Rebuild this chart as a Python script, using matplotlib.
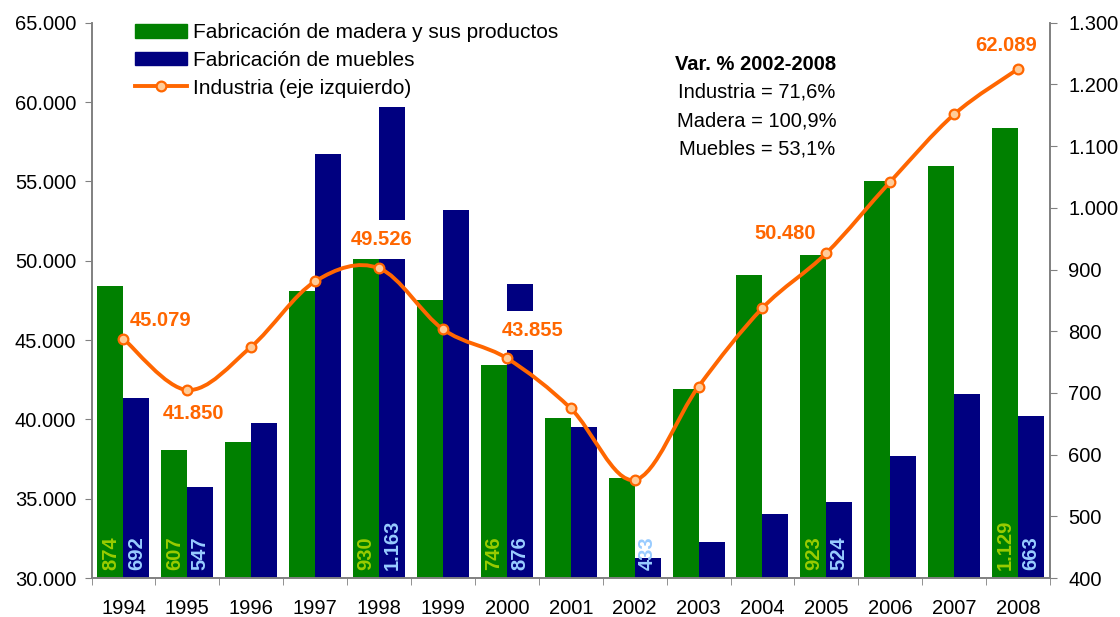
import numpy as np
import matplotlib
matplotlib.use("Agg")
import matplotlib.pyplot as plt
from matplotlib.path import Path
from matplotlib.patches import PathPatch, Patch
from matplotlib.lines import Line2D
from matplotlib.ticker import FuncFormatter, FixedLocator

plt.rcParams['font.family'] = ['Liberation Sans', 'DejaVu Sans']

years = ["1994", "1995", "1996", "1997", "1998", "1999", "2000", "2001",
         "2002", "2003", "2004", "2005", "2006", "2007", "2008"]
madera = [874, 607, 621, 865, 930, 851, 746, 659, 562, 706, 891, 923, 1044, 1068, 1129]
muebles = [692, 547, 651, 1087, 1163, 997, 876, 645, 433, 458, 504, 524, 598, 698, 663]
industria = [45079, 41850, 44580, 48700, 49526, 45680, 43855, 40690, 36180,
             42070, 47020, 50480, 54980, 59230, 62089]

# which values carry a data label
madera_lab = {0, 1, 4, 6, 11, 14}
muebles_lab = {0, 1, 4, 6, 8, 11, 14}
# industria label index -> offset in pixels from the marker
industria_lab = {0: (37, 18), 1: (6, -23), 4: (3, 29), 6: (26, 28), 11: (-41, 20), 14: (-12, 23)}

var_title = "Var. % 2002-2008"
var_lines = ["Industria = 71,6%", "Madera = 100,9%", "Muebles = 53,1%"]

GREEN = "#008000"
NAVY = "#000080"
ORANGE = "#FF6600"
PEACH = "#FFCC99"
GREY = "#808080"
FS = 14.5


def miles(v, pos=None):
    return f"{v:,.0f}".replace(",", ".")


def label_box(x0, y0, width, height, mutation_size):
    # white box like the excel data labels: tall and narrow
    px = 0.15 * mutation_size
    py = 0.5 * mutation_size
    return Path([(x0 - px, y0 - py), (x0 + width + px, y0 - py),
                 (x0 + width + px, y0 + height + py), (x0 - px, y0 + height + py),
                 (x0 - px, y0 - py)], closed=True)


fig = plt.figure(figsize=(11.2, 6.17), dpi=100)
ax = fig.add_axes([91.5 / 1120, 1 - 578 / 617, 958.5 / 1120, 555.2 / 617])
ax2 = ax.twinx()
ax.set_zorder(ax2.get_zorder() + 1)
ax.patch.set_visible(False)

x = np.arange(len(years))
w = 0.407

# bars on right axis
ax2.bar(x - w / 2, madera, w, color=GREEN, zorder=2)
ax2.bar(x + w / 2, muebles, w, color=NAVY, zorder=2)
for i in x:
    if i in madera_lab:
        ax2.annotate(miles(madera[i]), (x[i] - w / 2, 400), xytext=(0, 8),
                     textcoords="offset pixels", rotation=90, ha="center", va="bottom",
                     color="#99CC00", fontsize=FS, fontweight="bold", zorder=4)
    if i in muebles_lab:
        ax2.annotate(miles(muebles[i]), (x[i] + w / 2, 400), xytext=(0, 8),
                     textcoords="offset pixels", rotation=90, ha="center", va="bottom",
                     color="#99CCFF", fontsize=FS, fontweight="bold", zorder=4)

ax2.set_ylim(400, 1300)
ax2.set_yticks(np.arange(400, 1301, 100))
ax2.yaxis.set_major_formatter(FuncFormatter(miles))

# smoothed industria line (bezier through the points, like excel)
pts = np.column_stack([x, industria]).astype(float)
verts = [tuple(pts[0])]
codes = [Path.MOVETO]
n = len(pts)
for i in range(n - 1):
    p0 = pts[i - 1] if i > 0 else pts[i]
    p1 = pts[i]
    p2 = pts[i + 1]
    p3 = pts[i + 2] if i + 2 < n else pts[i + 1]
    c1 = p1 + (p2 - p0) / 6
    c2 = p2 - (p3 - p1) / 6
    verts += [tuple(c1), tuple(c2), tuple(p2)]
    codes += [Path.CURVE4] * 3
ax.add_patch(PathPatch(Path(verts, codes), fc="none", ec=ORANGE, lw=2.8, zorder=3,
                       capstyle="round", joinstyle="round"))
ax.plot(x, industria, linestyle="none", marker="o", ms=7, mfc=PEACH, mec=ORANGE,
        mew=1.6, zorder=4)

for i, (dx, dy) in industria_lab.items():
    ax.annotate(miles(industria[i]), (x[i], industria[i]), xytext=(dx, dy),
                textcoords="offset pixels", ha="center", va="center",
                color=ORANGE, fontsize=FS, fontweight="bold", zorder=2.5,
                bbox=dict(boxstyle=label_box, fc="white", ec="none"))

ax.set_ylim(30000, 65000)
ax.set_yticks(np.arange(30000, 65001, 5000))
ax.yaxis.set_major_formatter(FuncFormatter(miles))
ax.set_xlim(-0.5, len(years) - 0.5)
ax.set_xticks(x)
ax.set_xticklabels(years)
ax.xaxis.set_minor_locator(FixedLocator(np.arange(-0.5, len(years), 1)))

ax.tick_params(axis="x", which="major", length=0, pad=15, labelsize=FS)
ax.tick_params(axis="x", which="minor", length=5, color=GREY, direction="out")
ax.tick_params(axis="y", length=5, color=GREY, direction="out", pad=6, labelsize=FS)
ax2.tick_params(axis="y", length=5, color=GREY, direction="out", pad=8, labelsize=FS)

for a in (ax, ax2):
    a.spines["top"].set_visible(False)
    for s in ("left", "right", "bottom"):
        a.spines[s].set_color(GREY)
        a.spines[s].set_linewidth(1.2)

# variation note
ax.text(0.693, 0.925, var_title, transform=ax.transAxes, ha="center", va="center",
        fontsize=FS, fontweight="bold")
for k, t in enumerate(var_lines):
    ax.text(0.694, 0.875 - 0.051 * k, t, transform=ax.transAxes, ha="center",
            va="center", fontsize=FS)

handles = [Patch(color=GREEN), Patch(color=NAVY),
           Line2D([], [], color=ORANGE, lw=2.8, marker="o", ms=7, mfc=PEACH,
                  mec=ORANGE, mew=1.6)]
labels = ["Fabricación de madera y sus productos", "Fabricación de muebles",
          "Industria (eje izquierdo)"]
ax.legend(handles, labels, loc="upper left", bbox_to_anchor=(0.0454, 0.9995),
          frameon=False, fontsize=15, borderpad=0, borderaxespad=0,
          handlelength=2.5, handleheight=0.64, handletextpad=0.3, labelspacing=0.42)

fig.savefig("out.png", dpi=100)
